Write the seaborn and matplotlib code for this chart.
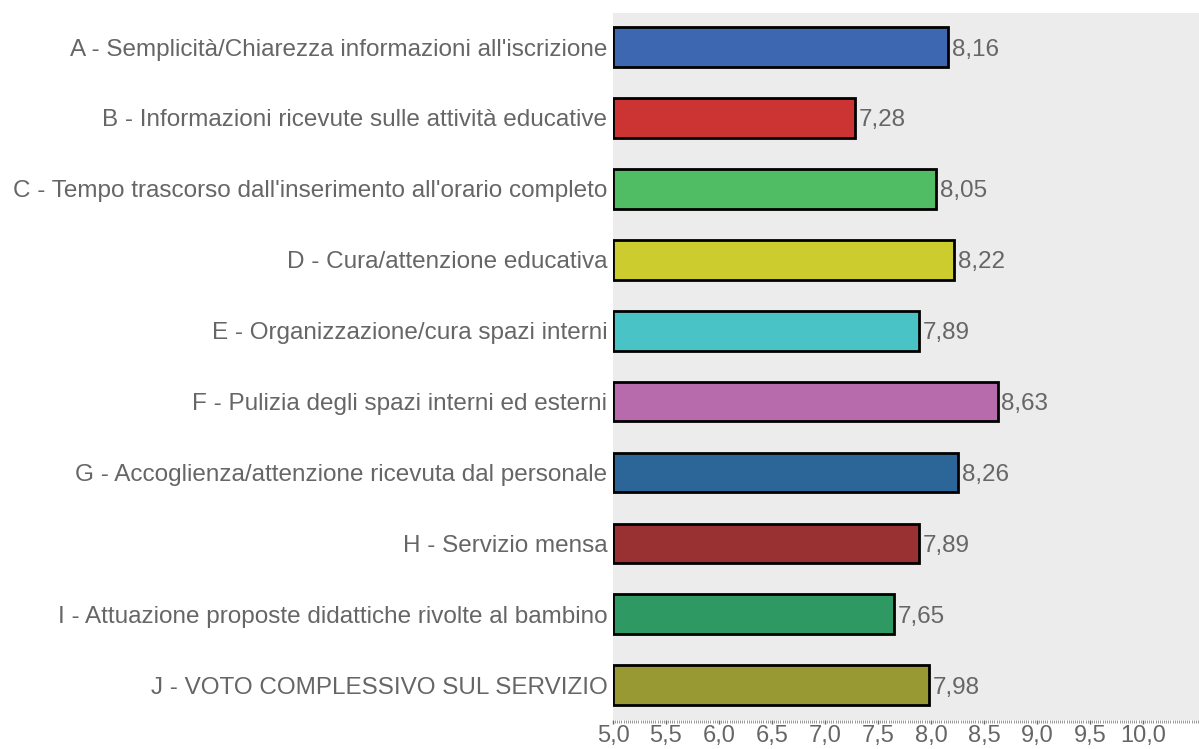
import matplotlib
matplotlib.use("Agg")
import matplotlib.pyplot as plt
import seaborn as sns
import pandas as pd
import numpy as np
from matplotlib.ticker import MultipleLocator, FuncFormatter

categories = [
    "A - Semplicità/Chiarezza informazioni all'iscrizione",
    "B - Informazioni ricevute sulle attività educative",
    "C - Tempo trascorso dall'inserimento all'orario completo",
    "D - Cura/attenzione educativa",
    "E - Organizzazione/cura spazi interni",
    "F - Pulizia degli spazi interni ed esterni",
    "G - Accoglienza/attenzione ricevuta dal personale",
    "H - Servizio mensa",
    "I - Attuazione proposte didattiche rivolte al bambino",
    "J - VOTO COMPLESSIVO SUL SERVIZIO",
]
values = [8.16, 7.28, 8.05, 8.22, 7.89, 8.63, 8.26, 7.89, 7.65, 7.98]
colors = ["#3D67B1", "#CC3333", "#50BD64", "#CCCC2E", "#4AC3C6",
          "#B86BAC", "#2C6699", "#993133", "#2E9963", "#999933"]
xticks = [5.0, 5.5, 6.0, 6.5, 7.0, 7.5, 8.0, 8.5, 9.0, 9.5, 10.0]

sns.set_theme(style="white")
plt.rcParams['font.family'] = ['Liberation Sans', 'DejaVu Sans']

base = 5.0
df = pd.DataFrame({"cat": categories, "val": values})
df["len"] = df["val"] - base

fig = plt.figure(figsize=(11.99, 7.49), dpi=100)
ax = fig.add_axes([613/1199, 1 - 720/749, 1 - 613/1199, (720 - 13)/749])
ax.set_facecolor("#ECECEC")

sns.barplot(data=df, x="len", y="cat", hue="cat", palette=colors, orient="h",
            ax=ax, legend=False, width=0.56, edgecolor="black", linewidth=2,
            saturation=1)
for p in ax.patches:
    p.set_x(p.get_x() + base)

ax.set_xlim(5.0, 10.53)
ax.set_ylim(9.49, -0.48)
for i, v in enumerate(values):
    ax.text(v + 0.035, i, f"{v:.2f}".replace(".", ","), va="center_baseline", ha="left",
            fontsize=17.5, color="#666666")

ax.set_xticks(xticks)
ax.xaxis.set_major_formatter(FuncFormatter(lambda x, p: f"{x:.1f}".replace(".", ",")))
ax.xaxis.set_minor_locator(MultipleLocator(0.02))
ax.tick_params(axis="x", which="major", length=3, width=1, color="#666666",
               labelsize=17, labelcolor="#666666", pad=0.5, bottom=True)
ax.tick_params(axis="x", which="minor", length=2, width=0.6, color="#888888", bottom=True)
ax.tick_params(axis="y", length=0, labelsize=17.5, labelcolor="#666666", pad=4)
ax.set_xlabel("")
ax.set_ylabel("")
for s in ["top", "right", "left", "bottom"]:
    ax.spines[s].set_visible(False)

fig.savefig("out.png", dpi=100)
